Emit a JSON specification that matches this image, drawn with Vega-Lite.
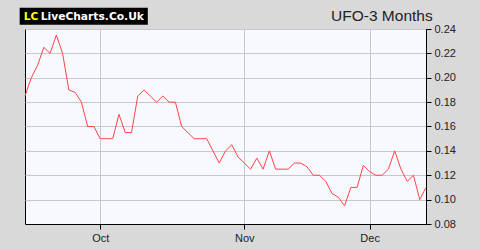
{
  "$schema": "https://vega.github.io/schema/vega-lite/v6.json",
  "width": 401,
  "height": 195,
  "autosize": "none",
  "padding": {"left": 25, "top": 29, "right": 54, "bottom": 26},
  "background": "#d9d9d9",
  "config": {
    "view": {"fill": "#f8f9ff", "stroke": "#000000", "strokeWidth": 1},
    "axis": {
      "labelFont": "Liberation Sans",
      "labelFontSize": 11,
      "labelColor": "#222222",
      "labelOverlap": false,
      "gridColor": "#c8c8c8",
      "gridWidth": 1,
      "gridOpacity": 1,
      "domainColor": "#000000",
      "tickColor": "#000000",
      "tickSize": 5,
      "title": null
    }
  },
  "layer": [
    {
      "data": {
        "values": [
          {"day": 0, "price": 0.185}, {"day": 1, "price": 0.2}, {"day": 2, "price": 0.21},
          {"day": 3, "price": 0.225}, {"day": 4, "price": 0.22}, {"day": 5, "price": 0.235},
          {"day": 6, "price": 0.22}, {"day": 7, "price": 0.19}, {"day": 8, "price": 0.188},
          {"day": 9, "price": 0.18}, {"day": 10, "price": 0.16}, {"day": 11, "price": 0.16},
          {"day": 12, "price": 0.15}, {"day": 13, "price": 0.15}, {"day": 14, "price": 0.15},
          {"day": 15, "price": 0.17}, {"day": 16, "price": 0.155}, {"day": 17, "price": 0.155},
          {"day": 18, "price": 0.185}, {"day": 19, "price": 0.19}, {"day": 20, "price": 0.185},
          {"day": 21, "price": 0.18}, {"day": 22, "price": 0.185}, {"day": 23, "price": 0.18},
          {"day": 24, "price": 0.18}, {"day": 25, "price": 0.16}, {"day": 26, "price": 0.155},
          {"day": 27, "price": 0.15}, {"day": 28, "price": 0.15}, {"day": 29, "price": 0.15},
          {"day": 30, "price": 0.14}, {"day": 31, "price": 0.13}, {"day": 32, "price": 0.14},
          {"day": 33, "price": 0.145}, {"day": 34, "price": 0.135}, {"day": 35, "price": 0.13},
          {"day": 36, "price": 0.125}, {"day": 37, "price": 0.134}, {"day": 38, "price": 0.125},
          {"day": 39, "price": 0.14}, {"day": 40, "price": 0.125}, {"day": 41, "price": 0.125},
          {"day": 42, "price": 0.125}, {"day": 43, "price": 0.13}, {"day": 44, "price": 0.13},
          {"day": 45, "price": 0.127}, {"day": 46, "price": 0.12}, {"day": 47, "price": 0.12},
          {"day": 48, "price": 0.115}, {"day": 49, "price": 0.105}, {"day": 50, "price": 0.102},
          {"day": 51, "price": 0.095}, {"day": 52, "price": 0.11}, {"day": 53, "price": 0.11},
          {"day": 54, "price": 0.128}, {"day": 55, "price": 0.123}, {"day": 56, "price": 0.12},
          {"day": 57, "price": 0.12}, {"day": 58, "price": 0.125}, {"day": 59, "price": 0.14},
          {"day": 60, "price": 0.125}, {"day": 61, "price": 0.115}, {"day": 62, "price": 0.12},
          {"day": 63, "price": 0.1}, {"day": 64, "price": 0.11}
        ]
      },
      "mark": {"type": "line", "color": "#ff4444", "strokeWidth": 1},
      "encoding": {
        "x": {
          "field": "day",
          "type": "quantitative",
          "scale": {"domain": [0, 64], "nice": false, "zero": false},
          "axis": {
            "orient": "bottom",
            "values": [12, 35, 55],
            "labelExpr": "datum.value == 12 ? 'Oct' : (datum.value == 35 ? 'Nov' : 'Dec')",
            "labelPadding": 3,
            "grid": true
          }
        },
        "y": {
          "field": "price",
          "type": "quantitative",
          "scale": {"domain": [0.08, 0.24], "nice": false, "zero": false},
          "axis": {
            "orient": "right",
            "values": [0.08, 0.1, 0.12, 0.14, 0.16, 0.18, 0.2, 0.22, 0.24],
            "format": ".2f",
            "labelPadding": 3,
            "grid": true
          }
        }
      }
    },
    {
      "data": {"values": [{"badge": "LC", "site": "LiveCharts.Co.Uk", "heading": "UFO-3 Months"}]},
      "mark": {"type": "rect", "color": "#000000"},
      "encoding": {
        "x": {"datum": -0.85, "type": "quantitative", "axis": {"orient": "bottom", "values": [12, 35, 55], "labelExpr": "datum.value == 12 ? 'Oct' : (datum.value == 35 ? 'Nov' : 'Dec')", "labelPadding": 3, "grid": true}},
        "x2": {"datum": 19.6},
        "y": {"datum": 0.2575, "type": "quantitative", "axis": {"orient": "right", "values": [0.08, 0.1, 0.12, 0.14, 0.16, 0.18, 0.2, 0.22, 0.24], "format": ".2f", "labelPadding": 3, "grid": true}},
        "y2": {"datum": 0.2435}
      }
    },
    {
      "data": {"values": [{"badge": "LC", "site": "LiveCharts.Co.Uk", "heading": "UFO-3 Months"}]},
      "mark": {"type": "text", "color": "#ffff00", "font": "DejaVu Sans", "fontWeight": "bold", "fontSize": 10.7, "align": "left", "baseline": "alphabetic"},
      "encoding": {
        "x": {"datum": -0.21, "type": "quantitative", "axis": {"orient": "bottom", "values": [12, 35, 55], "labelExpr": "datum.value == 12 ? 'Oct' : (datum.value == 35 ? 'Nov' : 'Dec')", "labelPadding": 3, "grid": true}},
        "y": {"datum": 0.24706, "type": "quantitative", "axis": {"orient": "right", "values": [0.08, 0.1, 0.12, 0.14, 0.16, 0.18, 0.2, 0.22, 0.24], "format": ".2f", "labelPadding": 3, "grid": true}},
        "text": {"field": "badge"}
      }
    },
    {
      "data": {"values": [{"badge": "LC", "site": "LiveCharts.Co.Uk", "heading": "UFO-3 Months"}]},
      "mark": {"type": "text", "color": "#ffffff", "font": "DejaVu Sans", "fontWeight": "bold", "fontSize": 10.7, "align": "left", "baseline": "alphabetic"},
      "encoding": {
        "x": {"datum": 2.51, "type": "quantitative", "axis": {"orient": "bottom", "values": [12, 35, 55], "labelExpr": "datum.value == 12 ? 'Oct' : (datum.value == 35 ? 'Nov' : 'Dec')", "labelPadding": 3, "grid": true}},
        "y": {"datum": 0.24706, "type": "quantitative", "axis": {"orient": "right", "values": [0.08, 0.1, 0.12, 0.14, 0.16, 0.18, 0.2, 0.22, 0.24], "format": ".2f", "labelPadding": 3, "grid": true}},
        "text": {"field": "site"}
      }
    },
    {
      "data": {"values": [{"badge": "LC", "site": "LiveCharts.Co.Uk", "heading": "UFO-3 Months"}]},
      "mark": {"type": "text", "color": "#222222", "font": "Liberation Sans", "fontSize": 15.5, "align": "right", "baseline": "alphabetic"},
      "encoding": {
        "x": {"datum": 65.07, "type": "quantitative", "axis": {"orient": "bottom", "values": [12, 35, 55], "labelExpr": "datum.value == 12 ? 'Oct' : (datum.value == 35 ? 'Nov' : 'Dec')", "labelPadding": 3, "grid": true}},
        "y": {"datum": 0.24624, "type": "quantitative", "axis": {"orient": "right", "values": [0.08, 0.1, 0.12, 0.14, 0.16, 0.18, 0.2, 0.22, 0.24], "format": ".2f", "labelPadding": 3, "grid": true}},
        "text": {"field": "heading"}
      }
    }
  ]
}
